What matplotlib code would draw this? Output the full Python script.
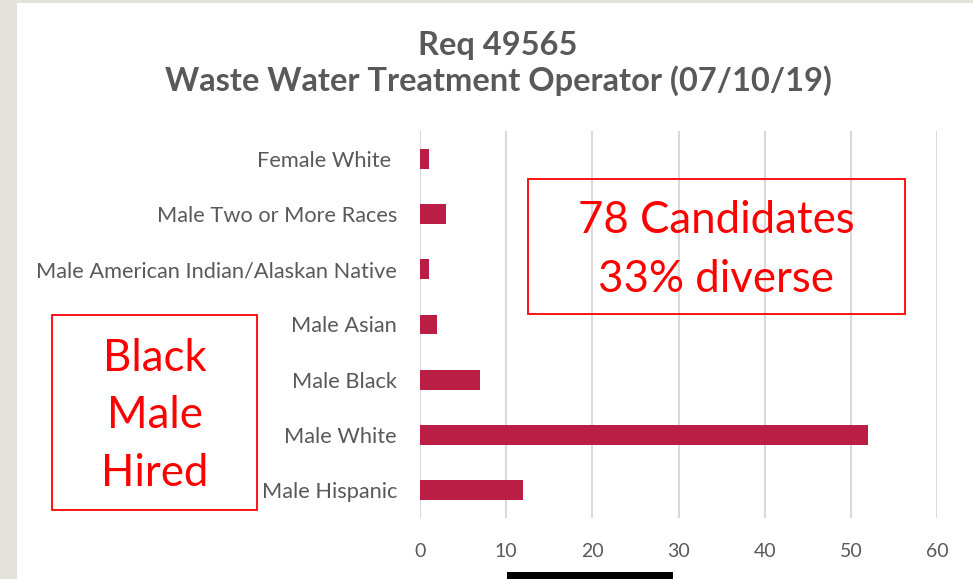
import matplotlib.pyplot as plt
from matplotlib.patches import Rectangle

categories = ["Male Hispanic", "Male White", "Male Black", "Male Asian",
              "Male American Indian/Alaskan Native", "Male Two or More Races",
              "Female White "]
counts = [12, 52, 7, 2, 1, 3, 1]
x_ticks = [0, 10, 20, 30, 40, 50, 60]

title_lines = ["Req 49565", "Waste Water Treatment Operator (07/10/19)"]
note_right = "78 Candidates\n33% diverse"
note_left = "Black\nMale\nHired"

W, H = 973, 579
GREY = "#595959"
BAR = "#BA1E44"
RED = "#FF0000"

plt.rcParams["font.family"] = ["Lato", "DejaVu Sans"]


def fx(px):
    return px / W


def fy(py):
    return 1 - py / H


def main():
    fig = plt.figure(figsize=(W / 100, H / 100), dpi=100)
    fig.patch.set_facecolor("white")

    # slide background strips
    fig.add_artist(Rectangle((0, 0), fx(17), 1, transform=fig.transFigure,
                             color="#E4E2DD", lw=0, zorder=0))
    fig.add_artist(Rectangle((0, fy(3)), 1, 1, transform=fig.transFigure,
                             color="#E4E2DD", lw=0, zorder=0))
    fig.add_artist(Rectangle((fx(507), 0), fx(673) - fx(507), fy(572),
                             transform=fig.transFigure, color="black", lw=0))

    ax = fig.add_axes([fx(420), fy(518), fx(937) - fx(420), fy(131) - fy(518)])
    plot_data(ax)
    set_properties(ax)

    fig.text(fx(498), fy(45), title_lines[0], ha="center", va="center",
             fontsize=23.5, fontweight="bold", color=GREY)
    fig.text(fx(498), fy(81), title_lines[1], ha="center", va="center",
             fontsize=23.5, fontweight="bold", color=GREY)

    # annotation boxes
    fig.add_artist(Rectangle((fx(528), fy(314)), fx(905) - fx(528), fy(179) - fy(314),
                             transform=fig.transFigure, fill=False, ec=RED, lw=1.3))
    fig.text(fx(716), fy(250), note_right, ha="center", va="center",
             fontsize=31.5, color=RED, linespacing=1.52)
    fig.add_artist(Rectangle((fx(52), fy(510)), fx(257) - fx(52), fy(315) - fy(510),
                             transform=fig.transFigure, fill=False, ec=RED, lw=1.3))
    fig.text(fx(155), fy(416), note_left, ha="center", va="center",
             fontsize=31.5, color=RED, linespacing=1.5)

    fig.savefig("out.png", dpi=100)


def plot_data(ax):
    ax.barh(range(len(categories)), counts, height=0.36, color=BAR, zorder=3)


def set_properties(ax):
    ax.set_xlim(0, 60)
    ax.set_ylim(-0.5, len(categories) - 0.5)
    ax.set_xticks(x_ticks)
    ax.set_yticks(range(len(categories)))
    ax.set_yticklabels(categories)
    ax.tick_params(axis="both", length=0, labelcolor=GREY)
    ax.tick_params(axis="y", pad=16.5, labelsize=15.7)
    ax.tick_params(axis="x", pad=18, labelsize=14)
    ax.grid(axis="x", color="#D9D9D9", lw=1.5, zorder=0)
    for s in ax.spines.values():
        s.set_visible(False)


if __name__ == "__main__":
    main()
